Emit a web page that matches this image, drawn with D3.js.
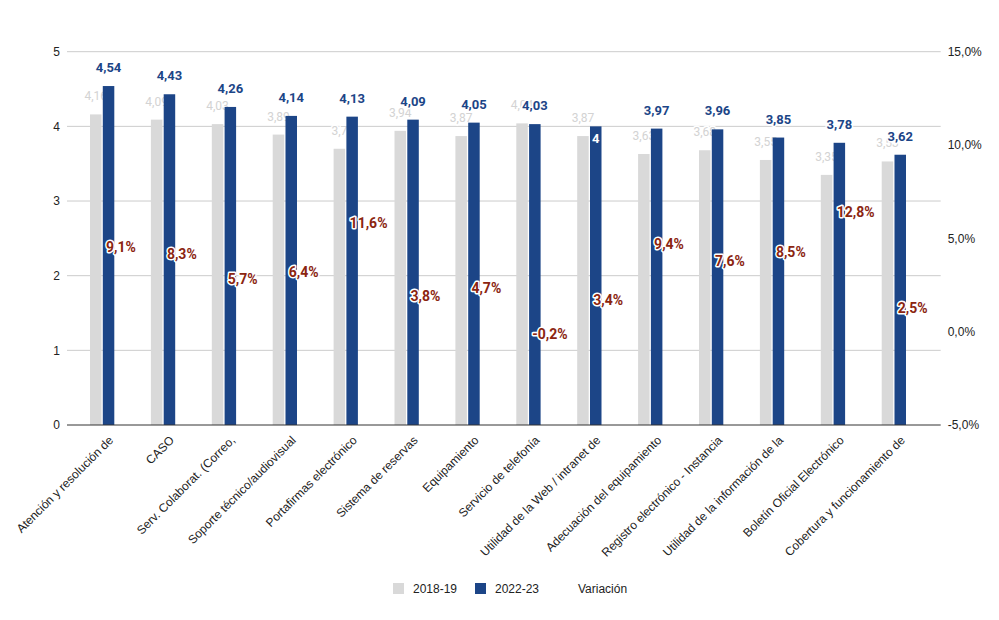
<!DOCTYPE html>
<html>
<head>
<meta charset="utf-8">
<script src="https://cdn.jsdelivr.net/npm/d3@7"></script>
<style>
  html, body { margin: 0; padding: 0; background: #fff; }
  svg { display: block; }
</style>
</head>
<body>
<svg id="chart" width="999" height="620"></svg>
<script>
const categories = [
  "Atención y resolución de",
  "CASO",
  "Serv. Colaborat. (Correo,",
  "Soporte técnico/audiovisual",
  "Portafirmas electrónico",
  "Sistema de reservas",
  "Equipamiento",
  "Servicio de telefonía",
  "Utilidad de la Web / intranet de",
  "Adecuación del equipamiento",
  "Registro electrónico - Instancia",
  "Utilidad de la información de la",
  "Boletín Oficial Electrónico",
  "Cobertura y funcionamiento de"
];
const values2018 = [4.16, 4.09, 4.03, 3.89, 3.70, 3.94, 3.87, 4.04, 3.87, 3.63, 3.68, 3.55, 3.35, 3.53];
const values2022 = [4.54, 4.43, 4.26, 4.14, 4.13, 4.09, 4.05, 4.03, 4.00, 3.97, 3.96, 3.85, 3.78, 3.62];
const variation = [0.091, 0.083, 0.057, 0.064, 0.116, 0.038, 0.047, -0.002, 0.034, 0.094, 0.076, 0.085, 0.128, 0.025];
const leftTicks = [0, 1, 2, 3, 4, 5];
const rightTicks = [-0.05, 0, 0.05, 0.10, 0.15];
const seriesNames = ["2018-19", "2022-23", "Variación"];
const insideLabelCategories = ["Utilidad de la Web / intranet de"];

const colGray = "#d9d9d9", colBlue = "#1c4587", colRed = "#8b2510";
const axisFont = "'Liberation Sans', Arial, sans-serif";
const labelFont = "Roboto, 'Liberation Sans', sans-serif";

const svg = d3.select("#chart");
const plotLeft = 67, plotRight = 940.7, plotTop = 51.7, plotBottom = 425;

const x = d3.scaleBand().domain(categories).range([71.55, 924.15]).padding(0);
const xs = d3.scaleBand().domain(["a", "b"]).range([-12, 12.3]).paddingInner(0.1);
const y = d3.scaleLinear().domain([0, 5]).range([plotBottom, plotTop]);
const yR = d3.scaleLinear().domain([-0.05, 0.15]).range([plotBottom, plotTop]);
const yV = d3.scaleLinear().domain([-0.10, 0.30]).range([plotBottom, plotTop]);
const cx = c => x(c) + x.bandwidth() / 2;
const fmtNum = v => String(+v.toFixed(2)).replace(".", ",");
const fmtPct = v => (v * 100).toFixed(1).replace(".", ",") + "%";

// gridlines
svg.append("g").selectAll("line").data(leftTicks.filter(t => t > 0)).join("line")
  .attr("x1", plotLeft).attr("x2", plotRight)
  .attr("y1", d => y(d)).attr("y2", d => y(d))
  .attr("stroke", "#cccccc").attr("stroke-width", 1);

// left axis
const gL = svg.append("g").attr("transform", `translate(${plotLeft},0)`)
  .call(d3.axisLeft(y).tickValues(leftTicks).tickSize(0).tickPadding(7).tickFormat(d => d));
gL.select(".domain").remove();
gL.selectAll("text").attr("font-family", axisFont).attr("font-size", 12).attr("fill", "#222");

// right axis
const gR = svg.append("g").attr("transform", `translate(${plotRight},0)`)
  .call(d3.axisRight(yR).tickValues(rightTicks).tickSize(0).tickPadding(7).tickFormat(fmtPct));
gR.select(".domain").remove();
gR.selectAll("text").attr("font-family", axisFont).attr("font-size", 12).attr("fill", "#222");

const rows = categories.map((c, i) => ({ c, a: values2018[i], b: values2022[i], v: variation[i] }));

// gray bars
svg.append("g").selectAll("rect").data(rows).join("rect")
  .attr("x", d => cx(d.c) + xs("a")).attr("width", xs.bandwidth())
  .attr("y", d => y(d.a)).attr("height", d => y(0) - y(d.a))
  .attr("fill", colGray);

// gray labels
svg.append("g").selectAll("text").data(rows).join("text")
  .attr("x", d => cx(d.c) + xs("a") + xs.bandwidth() / 2)
  .attr("y", d => y(d.a) - 14)
  .attr("text-anchor", "middle")
  .attr("font-family", labelFont).attr("font-size", 12)
  .attr("fill", "#d3d3d3")
  .attr("stroke", "#fff").attr("stroke-width", 3).attr("paint-order", "stroke")
  .text(d => fmtNum(d.a));

// blue bars
svg.append("g").selectAll("rect").data(rows).join("rect")
  .attr("x", d => cx(d.c) + xs("b")).attr("width", xs.bandwidth())
  .attr("y", d => y(d.b)).attr("height", d => y(0) - y(d.b))
  .attr("fill", colBlue);

// blue labels
svg.append("g").selectAll("text").data(rows).join("text")
  .attr("x", d => cx(d.c) + xs("b") + xs.bandwidth() / 2)
  .attr("y", d => insideLabelCategories.includes(d.c) ? y(d.b) + 17 : y(d.b) - 14)
  .attr("text-anchor", "middle")
  .attr("font-family", labelFont).attr("font-size", 13).attr("font-weight", "bold")
  .attr("fill", d => insideLabelCategories.includes(d.c) ? "#fff" : colBlue)
  .attr("stroke", d => insideLabelCategories.includes(d.c) ? "none" : "#fff")
  .attr("stroke-width", 3).attr("paint-order", "stroke")
  .text(d => fmtNum(d.b));

// baseline
svg.append("line")
  .attr("x1", plotLeft).attr("x2", plotRight)
  .attr("y1", y(0)).attr("y2", y(0))
  .attr("stroke", "#333").attr("stroke-width", 1);

// variation labels
svg.append("g").selectAll("text").data(rows).join("text")
  .attr("x", d => cx(d.c) + 4)
  .attr("y", d => yV(d.v))
  .attr("dy", "0.36em")
  .attr("font-family", labelFont).attr("font-size", 14).attr("font-weight", "bold")
  .attr("fill", colRed)
  .attr("stroke", "#fff").attr("stroke-width", 3).attr("stroke-linejoin", "round").attr("paint-order", "stroke")
  .text(d => fmtPct(d.v));

// x labels
svg.append("g").selectAll("text").data(categories).join("text")
  .attr("transform", c => `translate(${cx(c) + 12},${441}) rotate(-45)`)
  .attr("text-anchor", "end")
  .attr("font-family", axisFont).attr("font-size", 12).attr("fill", "#222")
  .text(c => c);

// legend
const legendItems = [
  { name: seriesNames[0], color: colGray, x: 393 },
  { name: seriesNames[1], color: colBlue, x: 475 },
  { name: seriesNames[2], color: null, x: 558 }
];
const lg = svg.append("g").selectAll("g").data(legendItems).join("g")
  .attr("transform", d => `translate(${d.x},583)`);
lg.filter(d => d.color).append("rect")
  .attr("width", 11).attr("height", 11).attr("fill", d => d.color);
lg.append("text").attr("x", 20).attr("y", 10)
  .attr("font-family", axisFont).attr("font-size", 12).attr("fill", "#222")
  .text(d => d.name);
</script>
</body>
</html>
